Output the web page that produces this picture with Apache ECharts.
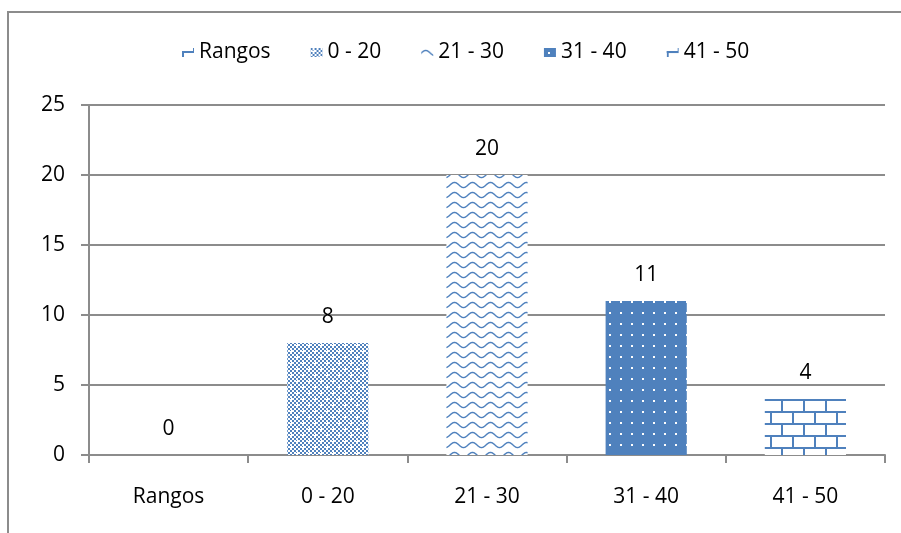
<!DOCTYPE html>
<html>
<head>
<meta charset="utf-8">
<script src="https://cdn.jsdelivr.net/npm/echarts@6/dist/echarts.min.js"></script>
<style>
html,body{margin:0;padding:0;background:#fff;}
#chart{width:901px;height:533px;}
</style>
</head>
<body>
<div id="chart"></div>
<script>
// ---- data ----
const categories = ['Rangos', '0 - 20', '21 - 30', '31 - 40', '41 - 50'];
const values = [0, 8, 20, 11, 4];
const seriesNames = ['Rangos', '0 - 20', '21 - 30', '31 - 40', '41 - 50'];
const yMin = 0, yMax = 25, yStep = 5;

// ---- pattern fills ----
const BLUE = '#4F81BD';
function tile(w, h, draw) {
  const c = document.createElement('canvas');
  c.width = w; c.height = h;
  draw(c.getContext('2d'));
  return c;
}
const checker = tile(12, 12, g => {
  g.fillStyle = '#fff'; g.fillRect(0, 0, 12, 12);
  g.fillStyle = BLUE;
  for (let x = 0; x < 12; x += 2) for (let y = 0; y < 12; y += 2) if (((x + y) / 2) % 2 === 0) g.fillRect(x, y, 2, 2);
  g.fillStyle = '#fff';
  g.fillRect(2, 3, 3, 1); g.fillRect(3, 2, 1, 3);
  g.fillRect(8, 9, 3, 1); g.fillRect(9, 8, 1, 3);
});
const wave = tile(18, 10, g => {
  g.fillStyle = '#fff'; g.fillRect(0, 0, 18, 10);
  g.strokeStyle = BLUE; g.lineWidth = 1.4;
  g.beginPath();
  for (let x = -1; x <= 19; x += 0.5) {
    const y = 5 - 2.6 * Math.sin(2 * Math.PI * x / 18);
    if (x === -1) g.moveTo(x, y); else g.lineTo(x, y);
  }
  g.stroke();
});
const dots = tile(11, 11, g => {
  g.fillStyle = BLUE; g.fillRect(0, 0, 11, 11);
  g.fillStyle = '#fff'; g.fillRect(4, 4, 2, 2);
});
const brick = tile(22, 24, g => {
  g.fillStyle = '#fff'; g.fillRect(0, 0, 22, 24);
  g.fillStyle = BLUE;
  g.fillRect(0, 3, 22, 2); g.fillRect(0, 15, 22, 2);
  g.fillRect(0, 3, 2, 12); g.fillRect(11, 15, 2, 12); g.fillRect(11, 0, 2, 3);
});
const fills = [brick, checker, wave, dots, brick];

const FONT = 'Open Sans';
const chart = echarts.init(document.getElementById('chart'), null, {renderer: 'canvas'});
const series = seriesNames.map((name, i) => ({
  name: name,
  type: 'bar',
  stack: 'total',
  barWidth: '51%',
  data: categories.map((c, j) => (j === i ? values[i] : '-')),
  itemStyle: {color: {image: fills[i], repeat: 'repeat'}},
  label: {
    show: true, position: 'top', distance: 15,
    fontFamily: FONT, fontSize: 21, color: '#000'
  },
  emphasis: {disabled: true}
}));

chart.setOption({
  animation: false,
  backgroundColor: '#fff',
  graphic: [{
    type: 'rect', silent: true,
    shape: {x: 8, y: 12, width: 1000, height: 1000},
    style: {fill: 'none', stroke: '#8c8c8c', lineWidth: 2}
  }],
  legend: {
    left: 182, top: 42, padding: 0,
    icon: 'rect', itemWidth: 12, itemHeight: 9, itemGap: 40,
    textStyle: {fontFamily: FONT, fontSize: 21, color: '#000'},
    data: seriesNames
  },
  grid: {left: 89, right: 16, top: 105, bottom: 78},
  xAxis: {
    type: 'category',
    data: categories,
    axisLine: {lineStyle: {color: '#8c8c8c', width: 2}},
    axisTick: {show: true, length: 8, lineStyle: {color: '#8c8c8c', width: 2}},
    axisLabel: {fontFamily: FONT, fontSize: 21, color: '#000', margin: 32}
  },
  yAxis: {
    type: 'value', min: yMin, max: yMax, interval: yStep,
    axisLine: {show: true, lineStyle: {color: '#8c8c8c', width: 2}},
    axisTick: {show: true, length: 8, lineStyle: {color: '#8c8c8c', width: 2}},
    splitLine: {lineStyle: {color: '#8c8c8c', width: 2}},
    axisLabel: {fontFamily: FONT, fontSize: 21, color: '#000', margin: 24}
  },
  series: series
});
</script>
</body>
</html>
